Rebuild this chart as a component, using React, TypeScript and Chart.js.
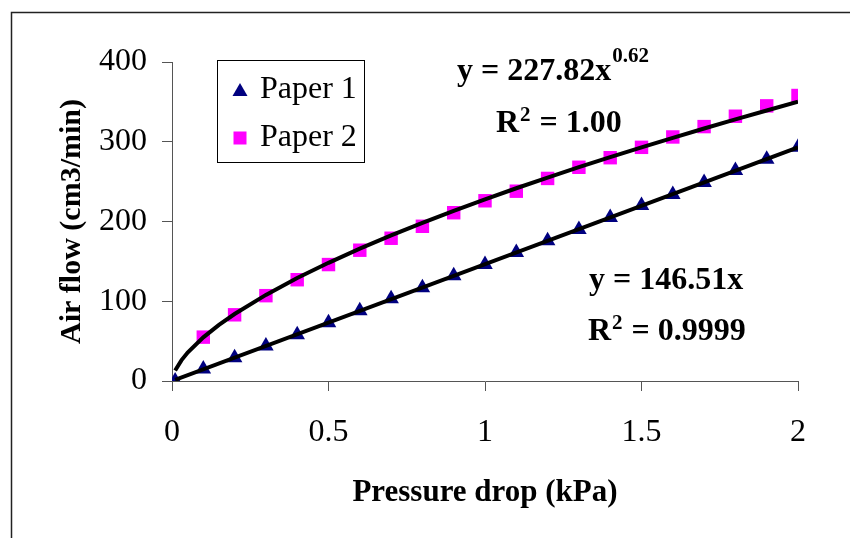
import React, { useEffect, useRef } from 'react';
import { Chart, registerables } from 'chart.js';

Chart.register(...registerables);

// ---- data ----
const seriesNames = ['Paper 1', 'Paper 2'];

const paper1X = [0.01, 0.1, 0.2, 0.3, 0.4, 0.5, 0.6, 0.7, 0.8, 0.9, 1.0, 1.1, 1.2, 1.3, 1.4, 1.5, 1.6, 1.7, 1.8, 1.9, 2.0];
const paper1Y = [0, 15, 29, 44, 58, 73, 88, 103, 117, 132, 146, 161, 176, 190, 205, 220, 234, 249, 264, 278, 293];

const paper2X = [0.1, 0.2, 0.3, 0.4, 0.5, 0.6, 0.7, 0.8, 0.9, 1.0, 1.1, 1.2, 1.3, 1.4, 1.5, 1.6, 1.7, 1.8, 1.9, 2.0];
const paper2Y = [55, 83, 107, 127, 146, 164, 179, 194, 211, 226, 238, 254, 268, 280, 293, 306, 319, 332, 345, 358];

// trendlines as drawn in the picture
const powerTrendX = [0.01, 0.03, 0.05, 0.1, 0.15, 0.2, 0.3, 0.4, 0.5, 0.6, 0.7, 0.8, 0.9, 1.0, 1.1, 1.2, 1.3, 1.4, 1.5, 1.6, 1.7, 1.8, 1.9, 2.0];
const powerTrendY = [13.1, 25.9, 35.6, 54.7, 70.3, 84.0, 108.0, 129.1, 148.2, 166.0, 182.6, 198.4, 213.4, 227.8, 241.7, 255.1, 268.1, 280.7, 292.9, 304.9, 316.6, 328.0, 339.2, 350.1];
const linearTrendX = [0.01, 2.0];
const linearTrendY = [1.5, 293];

const xTickValues = [0, 0.5, 1, 1.5, 2];
const xTickLabels = ['0', '0.5', '1', '1.5', '2'];
const yTickValues = [0, 100, 200, 300, 400];
const yTickLabels = ['0', '100', '200', '300', '400'];

const xTitle = 'Pressure drop (kPa)';
const yTitle = 'Air flow (cm3/min)';

const FONT = "'Liberation Serif', 'Times New Roman', Times, serif";

const toPoints = (xs: number[], ys: number[]) => xs.map((x, i) => ({ x, y: ys[i] }));

const overlayPlugin = {
  id: 'overlay',
  afterDraw(chart: any) {
    const ctx: CanvasRenderingContext2D = chart.ctx;
    ctx.save();
    // outer frame (left and top edges)
    ctx.strokeStyle = '#222';
    ctx.lineWidth = 1.5;
    ctx.beginPath();
    ctx.moveTo(11.5, 538);
    ctx.lineTo(11.5, 12.5);
    ctx.lineTo(850, 12.5);
    ctx.stroke();

    // legend box
    ctx.strokeStyle = '#000';
    ctx.lineWidth = 1;
    ctx.fillStyle = '#fff';
    ctx.fillRect(217.5, 60.5, 147, 102);
    ctx.strokeRect(217.5, 60.5, 147, 102);
    // triangle marker
    ctx.fillStyle = '#000080';
    ctx.beginPath();
    ctx.moveTo(240, 83);
    ctx.lineTo(247.5, 96);
    ctx.lineTo(232.5, 96);
    ctx.closePath();
    ctx.fill();
    // square marker
    ctx.fillStyle = '#FF00FF';
    ctx.fillRect(233.5, 131.5, 13, 13);
    ctx.fillStyle = '#000';
    ctx.font = `32px ${FONT}`;
    ctx.textBaseline = 'alphabetic';
    ctx.textAlign = 'left';
    ctx.fillText(seriesNames[0], 260, 98);
    ctx.fillText(seriesNames[1], 260, 146);

    // equations
    const big = `bold 32px ${FONT}`;
    const small = `bold 21px ${FONT}`;
    ctx.font = big;
    const eq1 = 'y = 227.82x';
    ctx.fillText(eq1, 457, 80);
    let w = ctx.measureText(eq1).width;
    ctx.font = small;
    ctx.fillText('0.62', 457 + w + 1, 62);

    ctx.font = big;
    ctx.fillText('R', 496, 132);
    w = ctx.measureText('R').width;
    ctx.font = small;
    ctx.fillText('2', 496 + w + 1, 121);
    const w2 = ctx.measureText('2').width;
    ctx.font = big;
    ctx.fillText(' = 1.00', 496 + w + w2 + 2, 132);

    ctx.fillText('y = 146.51x', 589, 289);
    ctx.fillText('R', 588, 340);
    w = ctx.measureText('R').width;
    ctx.font = small;
    ctx.fillText('2', 588 + w + 1, 329);
    ctx.font = big;
    ctx.fillText(' = 0.9999', 588 + w + w2 + 2, 340);
    ctx.restore();
  },
};

export default function App() {
  const ref = useRef<HTMLCanvasElement>(null);

  useEffect(() => {
    if (!ref.current) return;
    Chart.defaults.font.family = FONT;
    const chart = new Chart(ref.current, {
      type: 'scatter',
      data: {
        datasets: [
          {
            label: 'power trend',
            data: toPoints(powerTrendX, powerTrendY),
            showLine: true,
            borderColor: '#000',
            borderWidth: 4,
            pointRadius: 0,
            tension: 0,
            order: 0,
          },
          {
            label: 'linear trend',
            data: toPoints(linearTrendX, linearTrendY),
            showLine: true,
            borderColor: '#000',
            borderWidth: 4,
            pointRadius: 0,
            tension: 0,
            order: 0,
          },
          {
            label: seriesNames[0],
            data: toPoints(paper1X, paper1Y),
            pointStyle: 'triangle',
            pointRadius: 9,
            backgroundColor: '#000080',
            borderColor: '#000080',
            borderWidth: 0,
            order: 1,
          },
          {
            label: seriesNames[1],
            data: toPoints(paper2X, paper2Y),
            pointStyle: 'rect',
            pointRadius: 9.5,
            backgroundColor: '#FF00FF',
            borderColor: '#FF00FF',
            borderWidth: 0,
            order: 1,
          },
        ],
      },
      options: {
        responsive: false,
        animation: false,
        events: [],
        layout: { padding: { left: 0, right: 52, top: 62, bottom: 17 } },
        plugins: { legend: { display: false }, tooltip: { enabled: false } },
        scales: {
          x: {
            type: 'linear',
            min: 0,
            max: 2,
            afterBuildTicks: (s: any) => {
              s.ticks = xTickValues.map((v) => ({ value: v }));
            },
            afterFit: (s: any) => {
              s.height = 140;
            },
            grid: { drawOnChartArea: false, drawTicks: true, tickLength: 10, color: '#555', lineWidth: 1 },
            border: { color: '#555', width: 1 },
            ticks: {
              font: { size: 32 },
              color: '#000',
              padding: 22,
              maxRotation: 0,
              callback: (v: any) => {
                const i = xTickValues.indexOf(Number(v));
                return i >= 0 ? xTickLabels[i] : '';
              },
            },
            title: {
              display: true,
              text: xTitle,
              color: '#000',
              font: { size: 31, weight: 'bold' },
              padding: { top: 0, bottom: 9 },
            },
          },
          y: {
            type: 'linear',
            min: 0,
            max: 400,
            afterBuildTicks: (s: any) => {
              s.ticks = yTickValues.map((v) => ({ value: v }));
            },
            afterFit: (s: any) => {
              s.width = 172;
            },
            grid: { drawOnChartArea: false, drawTicks: true, tickLength: 10, color: '#555', lineWidth: 1 },
            border: { color: '#555', width: 1 },
            ticks: {
              font: { size: 32 },
              color: '#000',
              padding: 15,
              callback: (v: any) => {
                const i = yTickValues.indexOf(Number(v));
                return i >= 0 ? yTickLabels[i] : '';
              },
            },
            title: {
              display: true,
              text: yTitle,
              color: '#000',
              font: { size: 30, weight: 'bold' },
              padding: { top: 54, bottom: 0 },
            },
          },
        },
      } as any,
      plugins: [overlayPlugin],
    });
    return () => chart.destroy();
  }, []);

  return (
    <canvas
      ref={ref}
      width={850}
      height={538}
      style={{ position: 'absolute', left: 0, top: 0, display: 'block', background: '#fff' }}
    />
  );
}
